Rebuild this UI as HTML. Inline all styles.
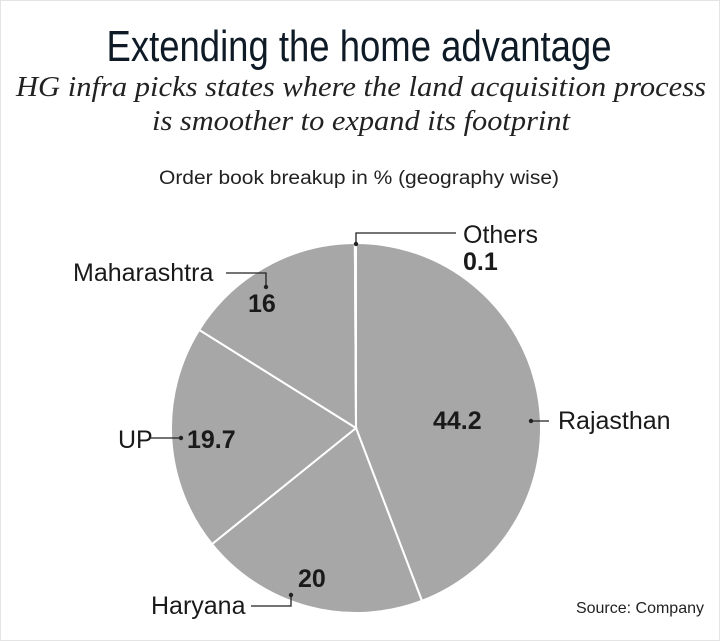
<!DOCTYPE html>
<html><head><meta charset="utf-8"><style>
body{margin:0;background:#fff}
#wrap{position:relative;width:718px;height:639px;border:1px solid #e4e4e4;background:#fff;overflow:hidden}
svg{position:absolute;left:0;top:0}
</style></head><body>
<div id="wrap">
<svg id="chart" width="720" height="641">
<text x="358" y="60" text-anchor="middle" font-family="'Liberation Sans Narrow','Liberation Sans',sans-serif" font-size="44" fill="#0e1a26" textLength="505" lengthAdjust="spacingAndGlyphs">Extending the home advantage</text>
<text x="360" y="95" text-anchor="middle" font-family="'Liberation Serif',serif" font-style="italic" font-size="29" fill="#222" textLength="690" lengthAdjust="spacingAndGlyphs">HG infra picks states where the land acquisition process</text>
<text x="360" y="129" text-anchor="middle" font-family="'Liberation Serif',serif" font-style="italic" font-size="29" fill="#222" textLength="418" lengthAdjust="spacingAndGlyphs">is smoother to expand its footprint</text>
<text x="358" y="183" text-anchor="middle" font-family="'Liberation Sans Narrow','Liberation Sans',sans-serif" font-size="19" fill="#222" textLength="400" lengthAdjust="spacingAndGlyphs">Order book breakup in % (geography wise)</text>
<g id="slices"></g>
<g id="labels" font-family="'Liberation Sans Narrow','Liberation Sans',sans-serif" fill="#1a1a1a"></g>
<text x="703" y="612" text-anchor="end" font-family="'Liberation Sans',sans-serif" font-size="16" fill="#222">Source: Company</text>
</svg>
</div>
<script>
const categories=["Rajasthan","Haryana","UP","Maharashtra","Others"];
const values=[44.2,20,19.7,16,0.1];
const valueLabels=["44.2","20","19.7","16","0.1"];
const cx=355,cy=427,R=185;
const total=values.reduce((a,b)=>a+b,0);
const NS="http://www.w3.org/2000/svg";
const g=document.getElementById('slices');
function pt(frac,r){const a=frac*2*Math.PI;return [cx+r*Math.sin(a),cy-r*Math.cos(a)];}
let acc=0;const mids=[];
values.forEach((v,i)=>{
  const f0=acc/total,f1=(acc+v)/total;acc+=v;mids.push((f0+f1)/2);
  const p0=pt(f0,R),p1=pt(f1,R);
  const large=(f1-f0)>0.5?1:0;
  const path=document.createElementNS(NS,'path');
  path.setAttribute('d',`M${cx},${cy}L${p0[0]},${p0[1]}A${R},${R} 0 ${large} 1 ${p1[0]},${p1[1]}Z`);
  path.setAttribute('fill',categories[i]==="Others"?'#d8d8d8':'#a7a7a7');
  path.setAttribute('stroke','#fff');
  path.setAttribute('stroke-width','2');
  
  
  g.appendChild(path);
});
const L=document.getElementById('labels');
function txt(x,y,s,size,weight,anchor,name){
  const t=document.createElementNS(NS,'text');
  t.setAttribute('x',x);t.setAttribute('y',y);t.setAttribute('font-size',size);
  t.setAttribute('font-weight',weight);t.setAttribute('text-anchor',anchor||'start');
  t.textContent=s;
  
  
  L.appendChild(t);
}
function leader(d,dot,name){
  const p=document.createElementNS(NS,'path');
  p.setAttribute('d',d);p.setAttribute('fill','none');p.setAttribute('stroke','#222');p.setAttribute('stroke-width','1.3');
  
  
  L.appendChild(p);
  const c=document.createElementNS(NS,'circle');
  c.setAttribute('cx',dot[0]);c.setAttribute('cy',dot[1]);c.setAttribute('r','2.2');c.setAttribute('fill','#222');
  
  
  L.appendChild(c);
}
// Rajasthan
txt(432,428,valueLabels[0],25,'bold','start','value-rajasthan');
leader('M530,420H548',[530,420],'leader-rajasthan');
txt(557,428,categories[0],25,'normal','start','label-rajasthan');
// Haryana
txt(297,586,valueLabels[1],25,'bold','start','value-haryana');
leader('M250,605H290V594',[290,594],'leader-haryana');
txt(150,613,categories[1],25,'normal','start','label-haryana');
// UP
txt(186,447,valueLabels[2],25,'bold','start','value-up');
leader('M150,437H180',[180,437],'leader-up');
txt(117,447,categories[2],25,'normal','start','label-up');
// Maharashtra
txt(247,311,valueLabels[3],25,'bold','start','value-maharashtra');
leader('M225,272H265V286',[265,286],'leader-maharashtra');
txt(72,280,categories[3],25,'normal','start','label-maharashtra');
// Others
leader('M355,243V232H455',[355,243],'leader-others');
txt(462,242,categories[4],25,'normal','start','label-others');
txt(462,269,valueLabels[4],25,'bold','start','value-others');
</script>
</body></html>
